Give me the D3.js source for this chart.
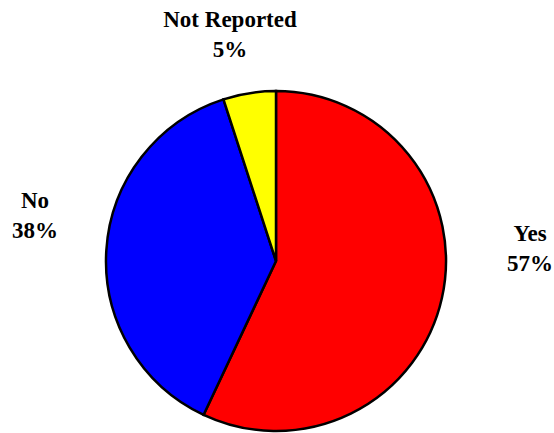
<!DOCTYPE html>
<html>
<head>
<meta charset="utf-8">
<script src="https://cdn.jsdelivr.net/npm/d3@7"></script>
<style>
  html, body { margin: 0; padding: 0; background: #fff; }
  svg { display: block; }
  text { font-family: "Liberation Serif", "Times New Roman", serif; font-weight: bold; font-size: 23px; fill: #000; }
</style>
</head>
<body>
<svg id="chart" width="554" height="433"></svg>
<script>
// Data
const categories = ["Yes", "No", "Not Reported"];
const values = [57, 38, 5];
const colors = ["#FF0000", "#0000FF", "#FFFF00"];

// Layout
const W = 554, H = 433;
const cx = 276, cy = 261, R = 170;
// label block centres (relative to pie centre), Excel-style placement
const labelOffsets = [[254, -13], [-241, -46], [-46, -227]];

const svg = d3.select("#chart");
const g = svg.append("g").attr("transform", `translate(${cx},${cy})`);

const data = categories.map((c, i) => ({ cat: c, value: values[i], color: colors[i] }));
const pie = d3.pie().value(d => d.value).sort(null);
const arc = d3.arc().innerRadius(0).outerRadius(R);
const arcs = pie(data);

g.selectAll("path.slice")
  .data(arcs)
  .join("path")
  .attr("class", "slice")
  .attr("d", arc)
  .attr("fill", d => d.data.color)
  .attr("stroke", "#000")
  .attr("stroke-width", 2.5)
  .attr("stroke-linejoin", "miter");

const lineH = 30.5;
const labels = g.selectAll("text.lbl")
  .data(arcs)
  .join("text")
  .attr("class", "lbl")
  .attr("text-anchor", "middle")
  .attr("transform", (d, i) => `translate(${labelOffsets[i][0]},${labelOffsets[i][1]})`);

labels.append("tspan")
  .attr("x", 0)
  .attr("y", -lineH / 2 + 8)
  .text(d => d.data.cat);
labels.append("tspan")
  .attr("x", 0)
  .attr("y", lineH / 2 + 8)
  .text(d => Math.round(100 * d.value / d3.sum(values)) + "%");
</script>
</body>
</html>
